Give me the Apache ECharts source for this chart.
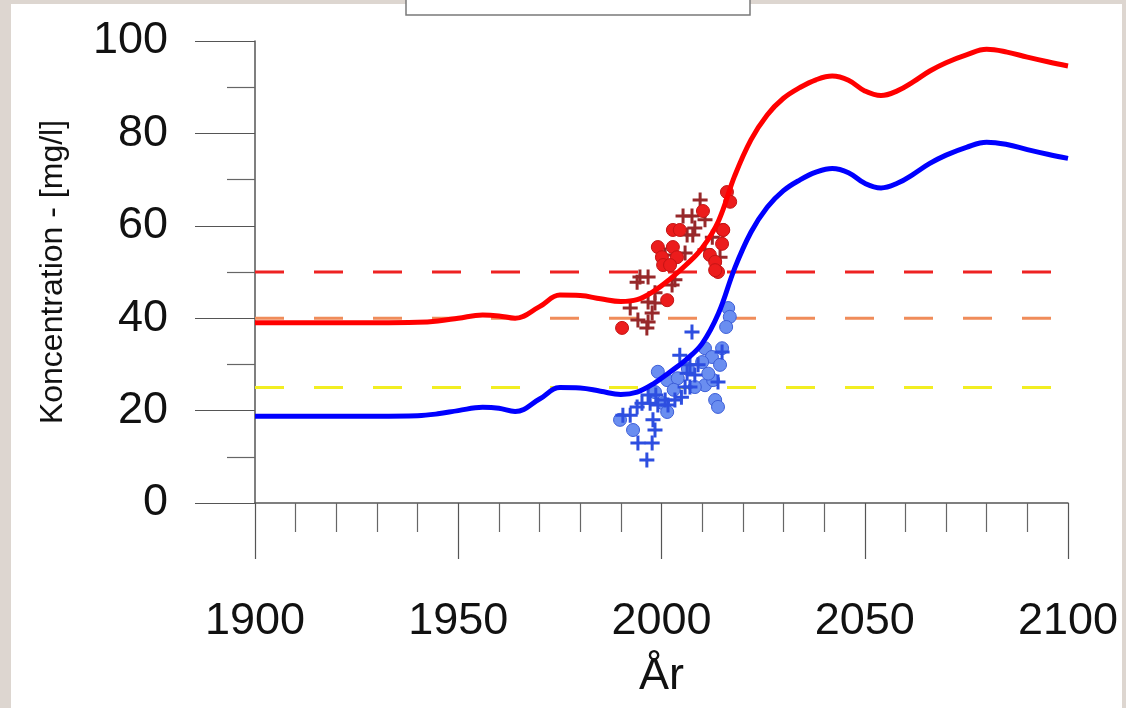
<!DOCTYPE html>
<html lang="sv">
<head>
	<meta charset="UTF-8">
	<title>Koncentration</title>
	<script src="https://cdn.jsdelivr.net/npm/echarts@6/dist/echarts.min.js"></script>
	<style>
		html, body { margin: 0; padding: 0; }
	</style>
</head>
<body>
	<div id="chart" style="width: 1126px;height: 708px;"></div>
	<script>
		// modellerade kurvor
		var years = [1900, 1910, 1920, 1930, 1940, 1945, 1950, 1956, 1960, 1964, 1970, 1975, 1980, 1985, 1990, 1994, 1998, 2002, 2006, 2010, 2014, 2018, 2022, 2026, 2030, 2034, 2038, 2042, 2046, 2050, 2054, 2058, 2062, 2066, 2070, 2075, 2080, 2085, 2090, 2095, 2100];
		var redCurve = [39, 39, 39, 39, 39.1, 39.4, 40, 40.7, 40.5, 40, 42.5, 45, 44.9, 44.2, 43.6, 44, 45.8, 48.4, 51.5, 55.2, 61, 70.8, 78.6, 84, 87.6, 89.9, 91.6, 92.4, 91.5, 89.2, 88.2, 89.2, 91.2, 93.5, 95.3, 97, 98.2, 97.6, 96.5, 95.5, 94.6];
		var blueCurve = [18.8, 18.8, 18.8, 18.8, 18.9, 19.3, 20, 20.7, 20.5, 19.8, 22.5, 25, 24.9, 24.2, 23.5, 24, 25.8, 28.3, 31, 34.5, 41, 50.8, 58.6, 64, 67.6, 69.9, 71.6, 72.4, 71.5, 69.2, 68.2, 69.2, 71.2, 73.5, 75.3, 77, 78.1, 77.6, 76.5, 75.5, 74.6];

		// gränsvärden
		var limitYears = [1900, 2100];
		var limits = [50, 40, 25];
		var limitColors = ['#ee2222', '#f08c5a', '#f2ee22'];

		// mätningar
		var redCircles = [[2010.2, 63.2], [2002.8, 59.1], [2004.5, 59.1], [2015.1, 59.1], [1999.1, 55.4], [2002.8, 55.4], [2014.9, 56.1], [2011.9, 53.7], [2000.1, 53.2], [2003.8, 53.2], [2000.4, 51.5], [2002.1, 51.5], [2013.2, 52.2], [2013.9, 50], [2001.4, 43.9], [1990.3, 37.9], [2016.1, 67.3], [2016.9, 65.2], [2015.2, 59.1], [2013.2, 50.4]];
		var redCrosses = [[2009.5, 65.6], [2005.3, 62.1], [2007.5, 62.1], [2010.7, 61.3], [2008.2, 59.5], [2006.3, 58], [2007.7, 58], [2000.9, 53.7], [2005.8, 54.1], [2010.7, 54.8], [2014.4, 53.2], [1994.7, 48.9], [1996.7, 48.9], [1994, 47.8], [2003.3, 48.3], [2002.6, 47.2], [1998.4, 45.5], [1996.7, 43.5], [1998.4, 43.3], [1992.3, 42.2], [1997.7, 41.1], [1994.2, 39.6], [1996.7, 39.2], [1996.4, 37.9], [2012.5, 57.5]];
		var blueCircles = [[2016.4, 42.2], [2016.8, 40.3], [2015.9, 38.1], [2014.9, 33.5], [2010.7, 33.5], [2012.4, 31.6], [2014.4, 29.9], [2010, 30.5], [1999.1, 28.4], [2001.4, 26.6], [2004, 27], [2010.7, 25.5], [2012.7, 26.6], [2008.2, 25.1], [1998.4, 24], [2000.4, 21.6], [2001.4, 19.7], [2013.2, 22.3], [2013.9, 20.8], [1993, 15.8], [1989.8, 18], [2006.5, 29], [2003, 24.5], [2011.5, 28]];
		var blueCrosses = [[2007.5, 37], [2007, 29.9], [2009, 29.9], [2006.3, 28.1], [2008.2, 27.7], [2005.8, 25.1], [2007, 25.1], [1996.7, 23.4], [1998.6, 23.4], [1995.2, 21.6], [1997.2, 21.6], [2000.9, 22.3], [2003.3, 22.3], [1999.1, 21.2], [2001.6, 21.2], [2004.9, 22.9], [1994, 20.8], [1997.9, 18], [1998.4, 15.8], [1990.5, 19], [1992.3, 19], [1994.2, 13], [1997.7, 13], [1996.4, 9.3], [2013.9, 26.2], [2014.9, 32.7], [2004.5, 32]];

		var plus = 'path://M4,0H6V4H10V6H6V10H4V6H0V4H4Z';
		var font = 'Liberation Sans, Arial, sans-serif';

		function pairs(xs, ys) {
			return xs.map(function (x, i) { return [x, ys[i]]; });
		}

		var series = [];
		limits.forEach(function (v, i) {
			series.push({
				type: 'line',
				silent: true,
				showSymbol: false,
				data: limitYears.map(function (y) { return [y, v]; }),
				lineStyle: { color: limitColors[i], width: 3, type: [29, 30] },
				z: 1
			});
		});
		series.push({
			type: 'scatter', data: redCrosses, symbol: plus, symbolSize: 15,
			itemStyle: { color: '#97282a', opacity: 1 }, z: 3
		});
		series.push({
			type: 'scatter', data: redCircles, symbol: 'circle', symbolSize: 13,
			itemStyle: { color: '#ec1c1c', borderColor: '#c41414', borderWidth: 1, opacity: 1 }, z: 3
		});
		series.push({
			type: 'scatter', data: blueCircles, symbol: 'circle', symbolSize: 13,
			itemStyle: { color: '#6a8ef0', borderColor: '#3d5ed8', borderWidth: 1, opacity: 1 }, z: 3
		});
		series.push({
			type: 'scatter', data: blueCrosses, symbol: plus, symbolSize: 15,
			itemStyle: { color: '#2d4ee0', opacity: 1 }, z: 3
		});
		series.push({
			type: 'line', data: pairs(years, redCurve), smooth: 0.4, showSymbol: false,
			lineStyle: { color: '#ff0000', width: 5 }, z: 4
		});
		series.push({
			type: 'line', data: pairs(years, blueCurve), smooth: 0.4, showSymbol: false,
			lineStyle: { color: '#0000ff', width: 5 }, z: 4
		});

		var option = {
			animation: false,
			backgroundColor: '#ddd6d0',
			graphic: [
				{ type: 'rect', z: -100, shape: { x: 11, y: 4, width: 1111, height: 710 }, style: { fill: '#ffffff' } },
				{ type: 'rect', z: 10, shape: { x: 406, y: -5, width: 344, height: 20 }, style: { fill: '#ffffff', stroke: '#7a7a7a', lineWidth: 1.5 } }
			],
			grid: { left: 255, right: 58, top: 41, bottom: 205 },
			xAxis: {
				type: 'value', min: 1900, max: 2100, interval: 50,
				name: 'År', nameLocation: 'middle', nameGap: 151,
				nameTextStyle: { fontSize: 45, color: '#111', fontFamily: font },
				axisLine: { lineStyle: { color: '#555', width: 1.5 } },
				axisTick: { length: 56, lineStyle: { color: '#555', width: 1.2 } },
				minorTick: { show: true, splitNumber: 5, length: 29, lineStyle: { color: '#666', width: 1.2 } },
				splitLine: { show: false },
				axisLabel: {
					fontSize: 45, color: '#111', margin: 96, fontFamily: font,
					formatter: function (v) { return String(v); }
				}
			},
			yAxis: {
				type: 'value', min: 0, max: 100, interval: 20,
				name: 'Koncentration - [mg/l]', nameLocation: 'middle', nameGap: 186,
				nameTextStyle: { fontSize: 32, color: '#111', fontFamily: font },
				axisLine: { show: true, lineStyle: { color: '#555', width: 1.5 } },
				axisTick: { show: true, length: 60, lineStyle: { color: '#555', width: 1.2 } },
				minorTick: { show: true, splitNumber: 2, length: 28, lineStyle: { color: '#666', width: 1.2 } },
				splitLine: { show: false },
				axisLabel: { fontSize: 45, color: '#111', margin: 87, fontFamily: font }
			},
			series: series
		};

		var myChart = echarts.init(document.getElementById('chart'));
		myChart.setOption(option);
	</script>
</body>
</html>
